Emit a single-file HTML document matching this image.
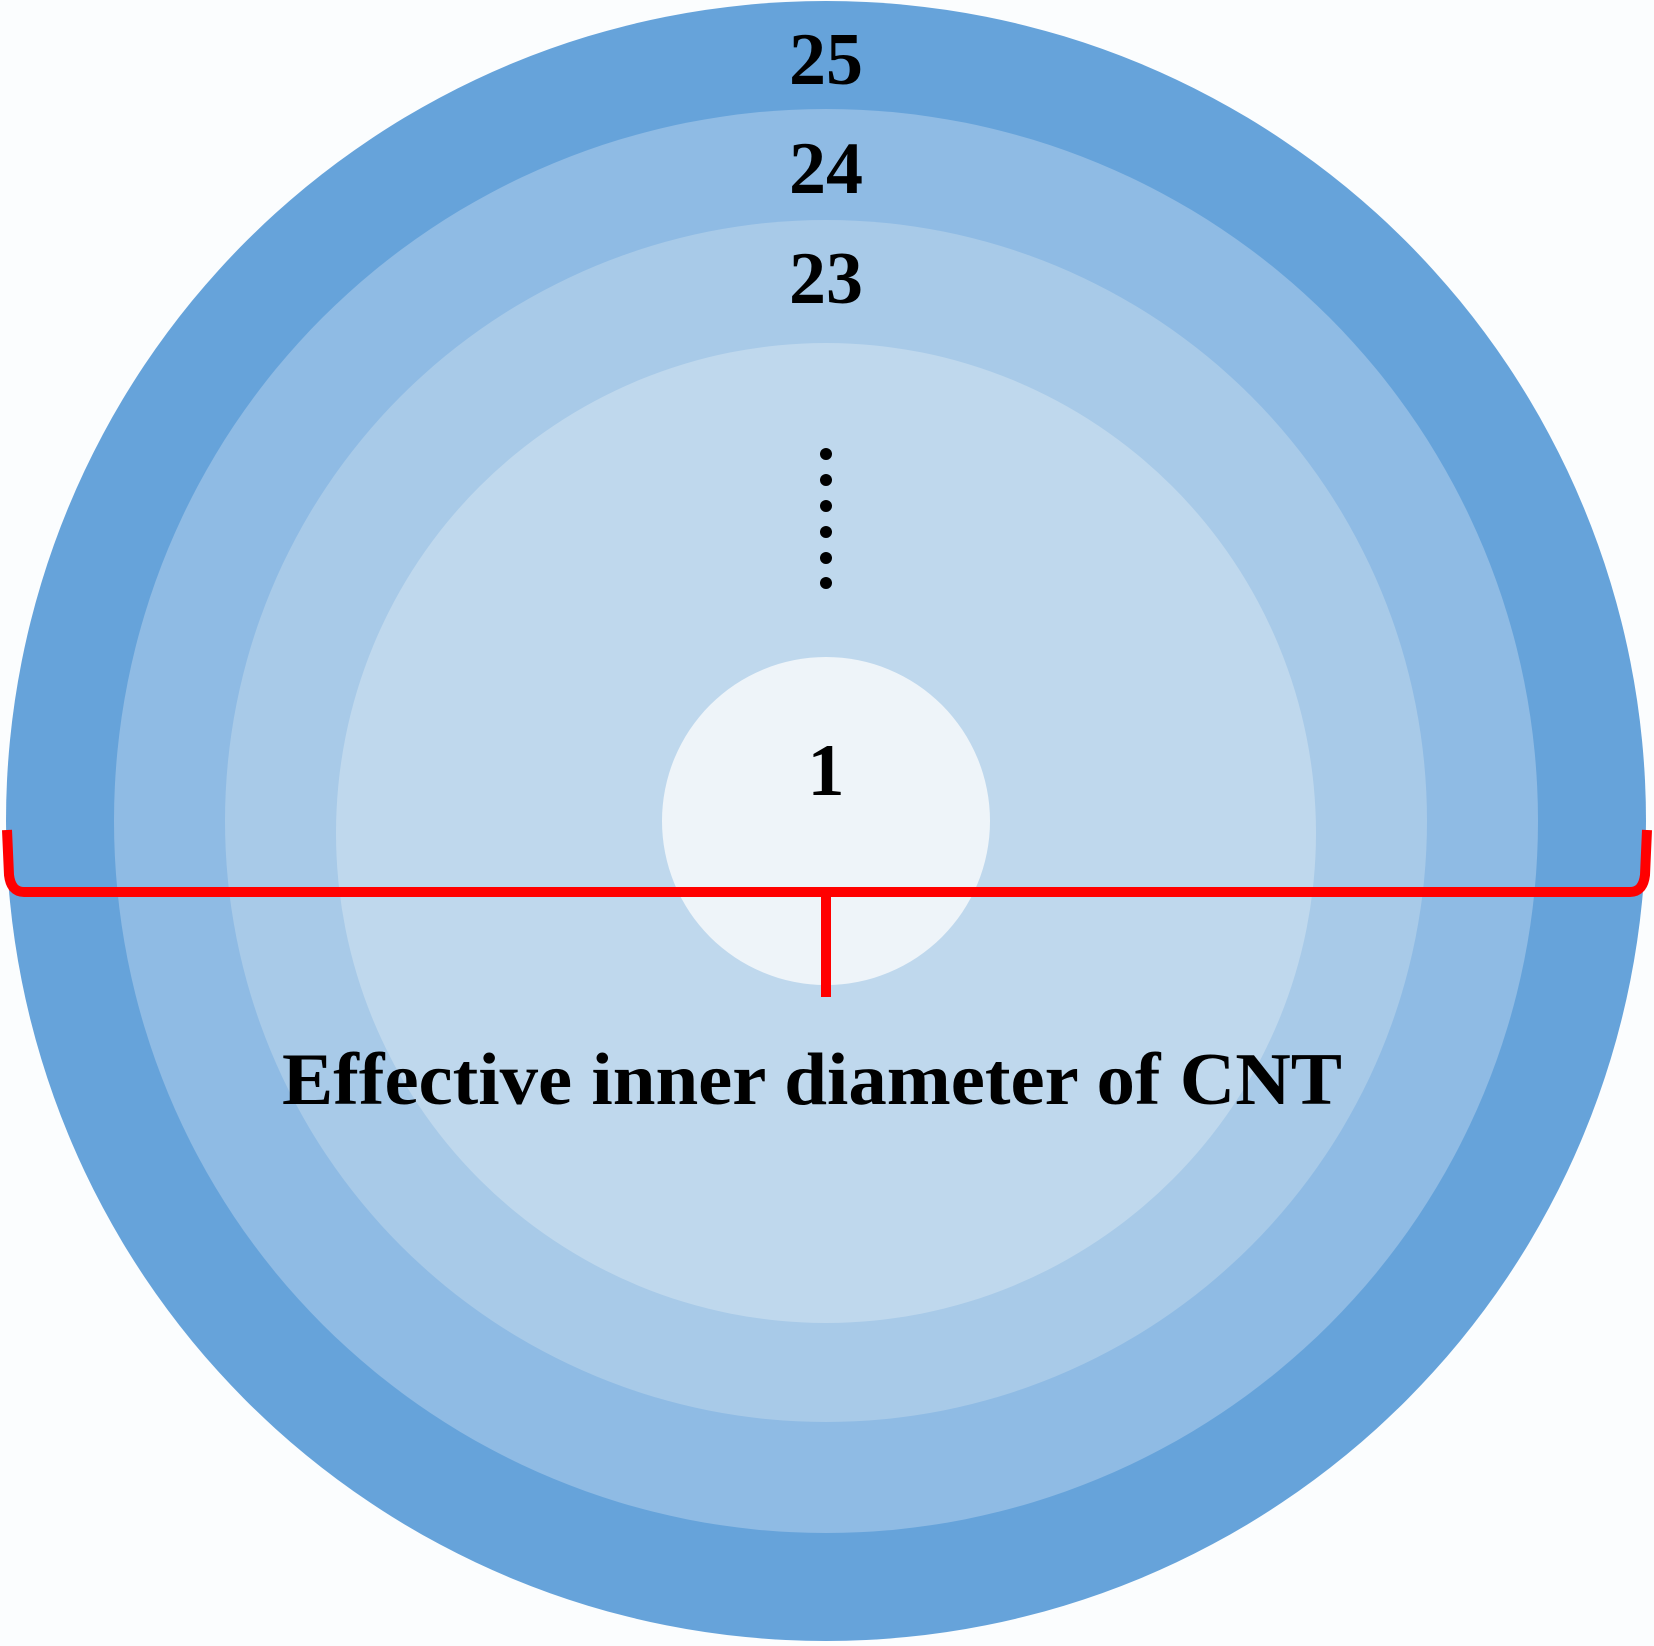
<!DOCTYPE html>
<html><head><style>html,body{margin:0;padding:0;background:#fbfdfe;}</style></head>
<body>
<svg width="1654" height="1641" viewBox="0 0 1654 1641" xmlns="http://www.w3.org/2000/svg">
<rect width="1654" height="1641" fill="#fbfdfe"/>
<circle cx="826" cy="821" r="820" fill="#66a3da"/>
<circle cx="826" cy="821" r="712" fill="#8fbbe4"/>
<circle cx="826" cy="821" r="601" fill="#a8cae8"/>
<circle cx="826" cy="833" r="490" fill="#bfd8ed"/>
<circle cx="826" cy="821" r="164" fill="#eef4f9"/>
<g font-family="Liberation Serif, serif" font-weight="bold" fill="#000" text-anchor="middle">
<text x="826" y="84" font-size="74">25</text>
<text x="826" y="193" font-size="74">24</text>
<text x="826" y="303" font-size="74">23</text>
<text x="826" y="795" font-size="74">1</text>
<text x="812" y="1104" font-size="74" textLength="1060" lengthAdjust="spacingAndGlyphs">Effective inner diameter of CNT</text>
</g>
<g fill="#000">
<circle cx="826" cy="454" r="6"/><circle cx="826" cy="480" r="6"/><circle cx="826" cy="506" r="6"/>
<circle cx="826" cy="532" r="6"/><circle cx="826" cy="558" r="6"/><circle cx="826" cy="583" r="6"/>
</g>
<g fill="none" stroke="#ff0000" stroke-width="10">
<path d="M7 830 L9 875 Q11 892 24 892 L1630 892 Q1643 892 1645 875 L1647 830"/>
<path d="M826 893 L826 997"/>
</g>
<path d="M810 887 L842 887 Q830 892 829 905 L823 905 Q822 892 810 887 Z" fill="#ff0000"/>
</svg>
</body></html>
